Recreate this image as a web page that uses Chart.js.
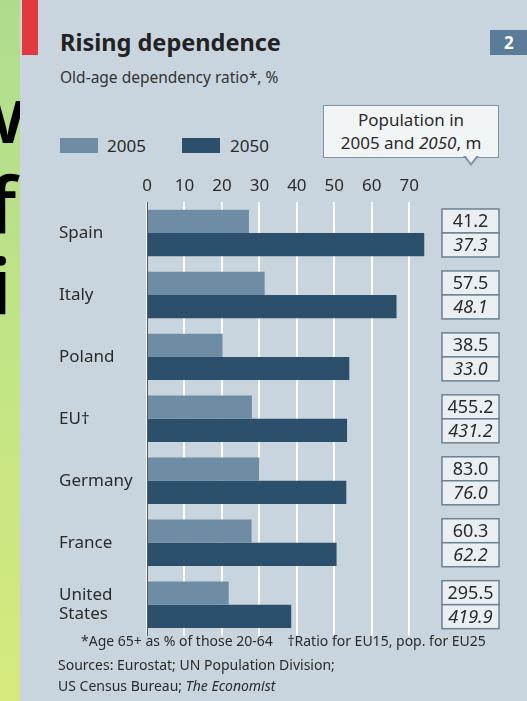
<!DOCTYPE html>
<html>
<head>
<meta charset="utf-8">
<script src="https://cdn.jsdelivr.net/npm/chart.js@4.4.1/dist/chart.umd.min.js"></script>
<style>
  html, body { margin: 0; padding: 0; }
  body {
    width: 527px; height: 701px; overflow: hidden; position: relative;
    background: linear-gradient(180deg, #aedc8e 0%, #c2e486 50%, #d5ea7c 100%);
    font-family: "Noto Sans", sans-serif; color: #2b2b2b;
  }
  .big { position: absolute; font-family: "Open Sans", sans-serif; font-weight: 600; font-size: 78px; color: #000; line-height: 1; }
  #panel {
    position: absolute; left: 20px; top: 0; width: 507px; height: 701px;
    background: #c8d5de; overflow: hidden;
  }
  .abs { position: absolute; white-space: nowrap; }
  #red { left: 2px; top: 0; width: 16px; height: 55px; background: #e0393e; }
  #num { left: 470px; top: 30px; width: 37px; height: 25px; background: #5b7c99; color: #fff; font-weight: 700; font-size: 17px; line-height: 25px; padding-left: 14px; box-sizing: border-box; }
  #title { left: 40px; top: 26px; font-size: 23.5px; font-weight: 700; color: #222; }
  #sub { left: 40px; top: 66px; font-size: 15.5px; color: #333; }
  .sw { position: absolute; top: 138px; width: 38px; height: 15px; }
  .lg { top: 134px; font-size: 17px; color: #2b2b2b; }
  #callout {
    left: 303px; top: 105px; width: 176px; height: 53px; box-sizing: border-box;
    background: #f2f5f6; border: 1.5px solid #7f93a2; text-align: center;
    font-size: 17px; line-height: 23px; padding-top: 2px; color: #2b2b2b;
  }
  #tri { left: 443px; top: 156px; width: 0; height: 0; border-left: 8px solid transparent; border-right: 8px solid transparent; border-top: 10px solid #7f93a2; }
  #tri2 { left: 445px; top: 155px; width: 0; height: 0; border-left: 6px solid transparent; border-right: 6px solid transparent; border-top: 8px solid #f2f5f6; }
  #wrap { position: absolute; left: 0; top: 171px; width: 507px; height: 474px; }
  .foot { font-size: 14px; color: #2b2b2b; }
</style>
</head>
<body>
<span class="big" style="left:-38px; top:74px;">w</span>
<span class="big" style="left:-12px; top:164px;">f</span>
<span class="big" style="left:-10px; top:246px;">i</span>

<div id="panel">
  <div class="abs" id="red"></div>
  <div class="abs" id="num">2</div>
  <div class="abs" id="title">Rising dependence</div>
  <div class="abs" id="sub">Old-age dependency ratio*, %</div>
  <div class="sw" style="left:40px; background:#6e8ca3;"></div>
  <div class="abs lg" style="left:87px;">2005</div>
  <div class="sw" style="left:162px; background:#2c4f6b;"></div>
  <div class="abs lg" style="left:210px;">2050</div>
  <div class="abs" id="callout">Population in<br>2005 and <i>2050</i>, m</div>
  <div class="abs" id="tri"></div>
  <div class="abs" id="tri2"></div>
  <div id="wrap"><canvas id="chart"></canvas></div>
  <div class="abs foot" style="left:61px; top:631px;">*Age 65+ as % of those 20-64&nbsp;&nbsp;&nbsp;&nbsp;†Ratio for EU15, pop. for EU25</div>
  <div class="abs foot" style="left:38px; top:655px;">Sources: Eurostat; UN Population Division;</div>
  <div class="abs foot" style="left:38px; top:676px;">US Census Bureau; <i>The Economist</i></div>
</div>

<script>
const countries = ["Spain", "Italy", "Poland", "EU†", "Germany", "France", ["United", "States"]];
const ratio2005 = [27.2, 31.4, 20.2, 28.0, 30.0, 27.9, 21.8];
const ratio2050 = [74.0, 66.6, 54.0, 53.4, 53.2, 50.6, 38.5];
const pop2005 = ["41.2", "57.5", "38.5", "455.2", "83.0", "60.3", "295.5"];
const pop2050 = ["37.3", "48.1", "33.0", "431.2", "76.0", "62.2", "419.9"];
const xTicks = [0, 10, 20, 30, 40, 50, 60, 70];

const popBoxes = {
  id: "popBoxes",
  afterDraw(chart) {
    const c = chart.ctx;
    const y = chart.scales.y;
    const left = chart.chartArea.right + 14;
    const w = 57;
    c.save();
    countries.forEach((name, i) => {
      const yc = y.getPixelForValue(i);
      const h = 24;
      [[pop2005[i], yc - h, ""], [pop2050[i], yc, "italic "]].forEach(([txt, top, st]) => {
        c.fillStyle = "#e9eff3";
        c.fillRect(left, top, w, h);
        c.strokeStyle = "#6c8192";
        c.lineWidth = 1.5;
        c.strokeRect(left, top, w, h);
        c.fillStyle = "#2b2b2b";
        c.font = st + "18px 'Noto Sans'";
        c.textAlign = "center";
        c.textBaseline = "middle";
        c.fillText(txt, left + w / 2, top + h / 2 + 1);
      });
    });
    c.restore();
  }
};

new Chart(document.getElementById("chart"), {
  type: "bar",
  data: {
    labels: countries,
    datasets: [
      { label: "2005", data: ratio2005, backgroundColor: "#6e8ca3", categoryPercentage: 0.75, barPercentage: 1 },
      { label: "2050", data: ratio2050, backgroundColor: "#2c4f6b", categoryPercentage: 0.75, barPercentage: 1 }
    ]
  },
  options: {
    indexAxis: "y",
    responsive: true,
    maintainAspectRatio: false,
    animation: false,
    layout: { padding: { left: 39, right: 99, top: 0, bottom: 0 } },
    plugins: { legend: { display: false }, tooltip: { enabled: false } },
    scales: {
      x: {
        position: "top",
        min: 0,
        max: 75,
        afterBuildTicks: s => { s.ticks = xTicks.map(v => ({ value: v })); },
        afterFit: s => { s.height = 31; },
        grid: { color: "#ffffff", lineWidth: 2, drawTicks: false },
        border: { display: false },
        ticks: { color: "#2b2b2b", font: { family: "Noto Sans", size: 17 }, padding: 6 }
      },
      y: {
        afterFit: s => { s.width = 88; },
        grid: { display: false },
        border: { display: true, color: "#4a5a66", width: 1 },
        ticks: { color: "#2b2b2b", crossAlign: "far", padding: 0, font: { family: "Noto Sans", size: 17, lineHeight: 1.1 } }
      }
    }
  },
  plugins: [popBoxes]
});
</script>
</body>
</html>
